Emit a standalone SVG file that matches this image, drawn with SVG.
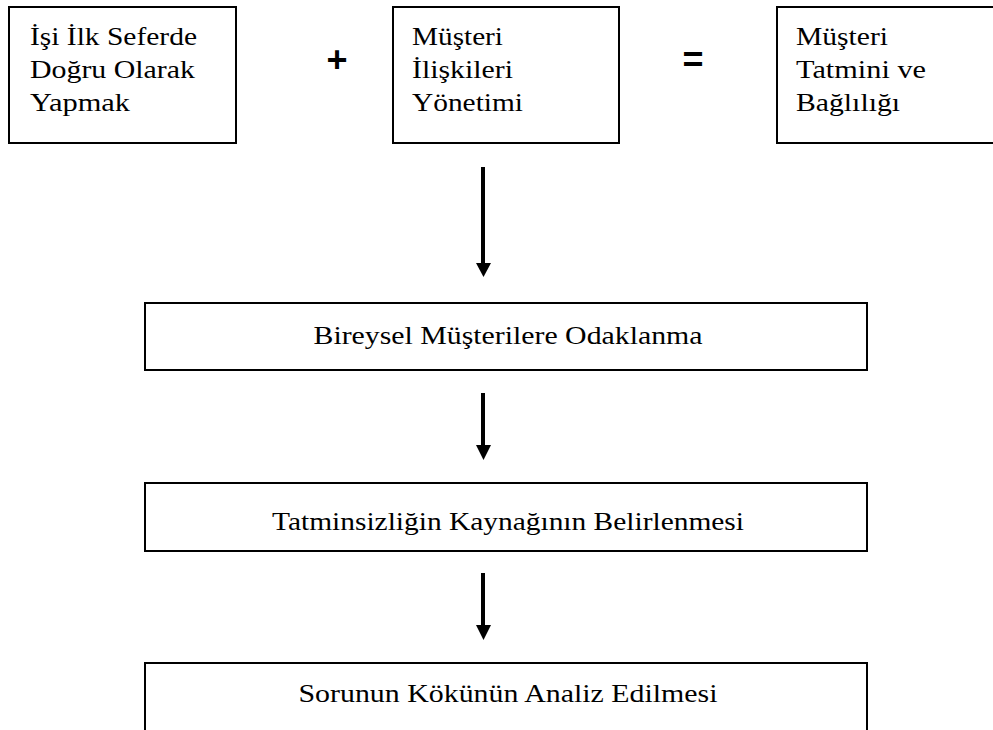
<svg xmlns="http://www.w3.org/2000/svg" width="993" height="730" viewBox="0 0 993 730">
  <defs>
    <style>
      .box { fill: #fff; stroke: #000; stroke-width: 2; }
      .lbl { font-family: 'Liberation Serif', 'Times New Roman', serif; font-size: 26px; fill: #000; }
      .mid { text-anchor: middle; }
      .op { font-family: 'Liberation Sans', Arial, sans-serif; font-size: 36px; font-weight: bold; fill: #000; text-anchor: middle; }
      .shaft { stroke: #000; stroke-width: 4; fill: none; }
      .head { fill: #000; }
    </style>
  </defs>
  <rect width="993" height="730" fill="#fff"/>

  <g id="node-first-time-right">
    <rect class="box" x="9" y="7" width="227" height="136"/>
    <text class="lbl" x="30" y="45" textLength="167" lengthAdjust="spacingAndGlyphs">İşi İlk Seferde</text>
    <text class="lbl" x="30" y="78" textLength="165" lengthAdjust="spacingAndGlyphs">Doğru Olarak</text>
    <text class="lbl" x="30" y="111" textLength="100" lengthAdjust="spacingAndGlyphs">Yapmak</text>
  </g>

  <text class="op" x="337" y="72">+</text>

  <g id="node-crm">
    <rect class="box" x="393" y="7" width="226" height="136"/>
    <text class="lbl" x="412" y="45" textLength="91" lengthAdjust="spacingAndGlyphs">Müşteri</text>
    <text class="lbl" x="412" y="78" textLength="101" lengthAdjust="spacingAndGlyphs">İlişkileri</text>
    <text class="lbl" x="412" y="111" textLength="111" lengthAdjust="spacingAndGlyphs">Yönetimi</text>
  </g>

  <text class="op" x="693" y="72">=</text>

  <g id="node-satisfaction">
    <rect class="box" x="777" y="7" width="230" height="136"/>
    <text class="lbl" x="796" y="45" textLength="92" lengthAdjust="spacingAndGlyphs">Müşteri</text>
    <text class="lbl" x="796" y="78" textLength="130" lengthAdjust="spacingAndGlyphs">Tatmini ve</text>
    <text class="lbl" x="796" y="111" textLength="104" lengthAdjust="spacingAndGlyphs">Bağlılığı</text>
  </g>

  <g id="node-focus">
    <rect class="box" x="145" y="303" width="722" height="67"/>
    <text class="lbl mid" x="508" y="344" textLength="389" lengthAdjust="spacingAndGlyphs">Bireysel Müşterilere Odaklanma</text>
  </g>

  <g id="node-source">
    <rect class="box" x="145" y="483" width="722" height="68"/>
    <text class="lbl mid" x="508" y="530" textLength="472" lengthAdjust="spacingAndGlyphs">Tatminsizliğin Kaynağının Belirlenmesi</text>
  </g>

  <g id="node-root-cause">
    <rect class="box" x="145" y="663" width="722" height="80"/>
    <text class="lbl mid" x="508" y="702" textLength="419" lengthAdjust="spacingAndGlyphs">Sorunun Kökünün Analiz Edilmesi</text>
  </g>

  <g id="connectors">
    <line class="shaft" x1="483" y1="167" x2="483" y2="264"/>
    <polygon class="head" points="476,263 491,263 483.5,277"/>
    <line class="shaft" x1="483" y1="393" x2="483" y2="446"/>
    <polygon class="head" points="476,445 491,445 483.5,460"/>
    <line class="shaft" x1="483" y1="573" x2="483" y2="626"/>
    <polygon class="head" points="476,625 491,625 483.5,640"/>
  </g>
</svg>
